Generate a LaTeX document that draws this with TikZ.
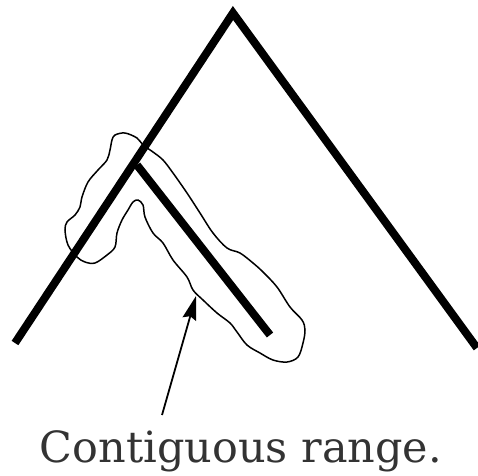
\documentclass[tikz,border=0pt]{standalone}
\usepackage{fontspec}
\usepackage{graphicx}
\setmainfont{DejaVu Serif}
\usetikzlibrary{arrows.meta}
\begin{document}
\begin{tikzpicture}[x=1pt,y=-1pt,
  thickline/.style={line width=8pt,black,line cap=butt,line join=miter},
  outline/.style={line width=1.5pt,black},
  pointer/.style={line width=1.8pt,black,-{Stealth[length=24pt,width=14pt,inset=3pt]}},
  caption/.style={text=black!80,inner sep=0pt,anchor=base}]
\useasboundingbox (0,0) rectangle (478,475);
\coordinate (L) at (15,343);
\coordinate (A) at (233,13);
\coordinate (R) at (477,348);
\coordinate (S) at (137,165);
\coordinate (E) at (270,335);
\coordinate (T0) at (162,415);
\coordinate (T1) at (196,296);
\draw[thickline] (L) -- (A) -- (R);
\draw[thickline] (S) -- (E);
\draw[outline] plot[smooth cycle,tension=0.55] coordinates {
(115,135)(125,133)(137,138)(143,145)(153,152)(163,160)(173,173)(187,193)(200,213)(213,233)(227,248)(240,253)(253,263)(263,272)(277,287)(290,307)(302,320)(305,330)(303,343)(298,357)(287,362)(273,360)(260,353)(247,345)(237,332)(230,323)(217,313)(203,300)(193,290)(187,277)(173,260)(163,243)(153,233)(145,217)(143,205)(138,200)(133,202)(128,210)(122,220)(117,233)(115,247)(107,255)(95,263)(85,262)(77,257)(68,245)(65,230)(67,222)(75,215)(80,207)(82,197)(88,182)(98,170)(107,160)(110,150)(112,140)};
\draw[pointer] (T0) -- (T1);
\node[caption] (cap) at (241,462) {\resizebox{402pt}{!}{Contiguous range.}};
\end{tikzpicture}
\end{document}
